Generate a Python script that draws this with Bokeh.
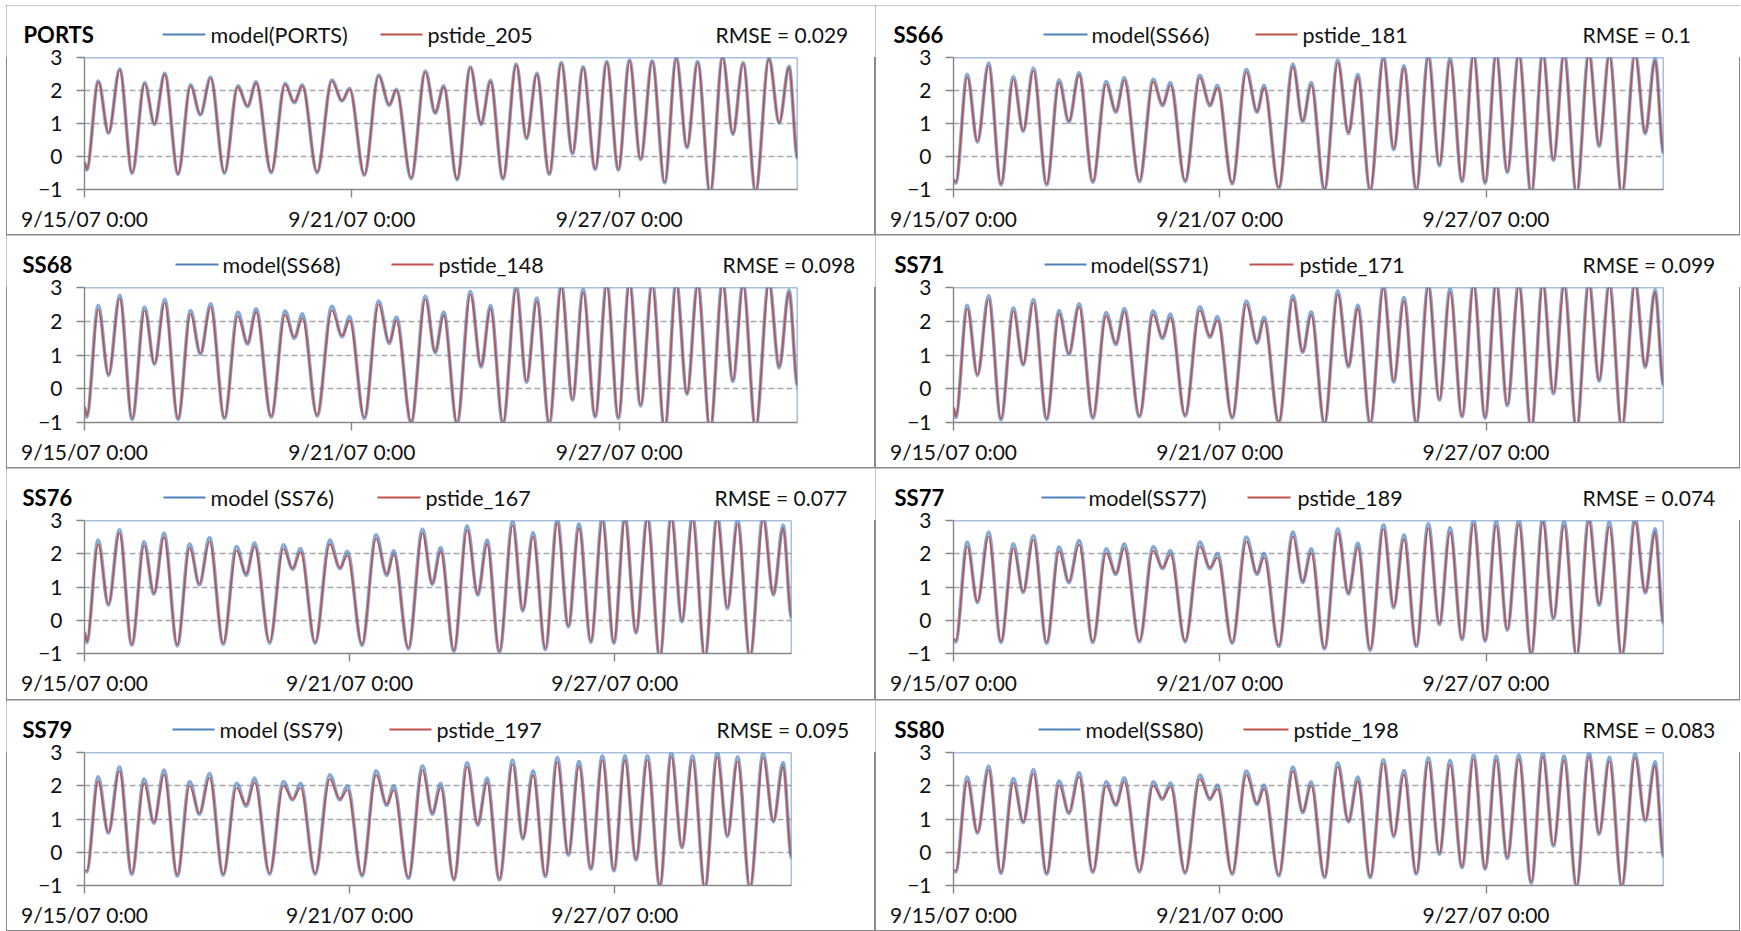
from bokeh.plotting import figure
from bokeh.models import Range1d, FixedTicker, Span, ColumnDataSource, Spacer
from bokeh.core.properties import value
from bokeh.layouts import column, row
from bokeh.embed import file_html
from bokeh.resources import INLINE

# ---------------------------------------------------------------- data
# Time axis in days after 9/15/07 0:00; the series run for 16 days.
START_DAY = 0.0
END_DAY = 16.0
# Times of the successive low / high waters (low first).
EXTREME_DAYS = [
    0.05, 0.31, 0.54, 0.79, 1.07, 1.35, 1.57, 1.80, 2.10, 2.38,
    2.60, 2.83, 3.14, 3.44, 3.66, 3.85, 4.19, 4.50, 4.71, 4.89,
    5.22, 5.55, 5.78, 5.95, 6.28, 6.60, 6.84, 7.00, 7.33, 7.65,
    7.87, 8.06, 8.36, 8.66, 8.90, 9.11, 9.39, 9.69, 9.92, 10.15,
    10.43, 10.70, 10.95, 11.19, 11.46, 11.72, 11.98, 12.23, 12.48, 12.74,
    13.02, 13.28, 13.52, 13.76, 14.04, 14.32, 14.55, 14.78, 15.06, 15.36,
    15.59, 15.81,
]
DAY_TICKS = [0, 6, 12]
DAY_TICK_LABELS = ["9/15/07 0:00", "9/21/07 0:00", "9/27/07 0:00"]
LEVEL_TICKS = [-1, 0, 1, 2, 3]

STATIONS = ["PORTS", "SS66", "SS68", "SS71", "SS76", "SS77", "SS79", "SS80"]
MODEL_NAMES = ["model(PORTS)", "model(SS66)", "model(SS68)", "model(SS71)",
               "model (SS76)", "model(SS77)", "model (SS79)", "model(SS80)"]
PSTIDE_NAMES = ["pstide_205", "pstide_181", "pstide_148", "pstide_171",
                "pstide_167", "pstide_189", "pstide_197", "pstide_198"]
RMSE = ["0.029", "0.1", "0.098", "0.099", "0.077", "0.074", "0.095", "0.083"]

# Water level at the start, at every extreme, and at the end of the record.
pstide_PORTS = [-0.18,
    -0.39, 2.26, 0.72, 2.62, -0.49, 2.21, 0.99, 2.49, -0.52, 2.14,
    1.28, 2.38, -0.49, 2.11, 1.53, 2.23, -0.47, 2.18, 1.65, 2.14,
    -0.47, 2.29, 1.70, 2.04, -0.55, 2.44, 1.57, 2.01, -0.65, 2.56,
    1.33, 2.11, -0.68, 2.69, 0.99, 2.28, -0.66, 2.77, 0.56, 2.49,
    -0.52, 2.82, 0.11, 2.69, -0.37, 2.85, -0.39, 2.89, -0.07, 2.87,
    -0.78, 2.97, 0.29, 2.85, -1.10, 3.00, 0.69, 2.82, -1.05, 2.95,
    1.03, 2.70,
    -0.02]
model_PORTS = [-0.19,
    -0.41, 2.29, 0.70, 2.65, -0.51, 2.24, 0.97, 2.52, -0.54, 2.17,
    1.26, 2.41, -0.51, 2.14, 1.51, 2.26, -0.49, 2.21, 1.63, 2.17,
    -0.49, 2.32, 1.68, 2.07, -0.57, 2.47, 1.55, 2.04, -0.67, 2.59,
    1.31, 2.14, -0.70, 2.72, 0.97, 2.31, -0.68, 2.80, 0.54, 2.52,
    -0.54, 2.85, 0.09, 2.72, -0.39, 2.88, -0.41, 2.92, -0.09, 2.90,
    -0.80, 3.00, 0.27, 2.88, -1.12, 3.03, 0.67, 2.85, -1.07, 2.98,
    1.01, 2.73,
    -0.04]

pstide_SS66 = [-0.68,
    -0.78, 2.41, 0.46, 2.75, -0.83, 2.34, 0.79, 2.60, -0.83, 2.24,
    1.07, 2.46, -0.75, 2.19, 1.37, 2.31, -0.73, 2.26, 1.57, 2.16,
    -0.73, 2.38, 1.57, 2.08, -0.80, 2.56, 1.37, 2.08, -0.93, 2.72,
    1.07, 2.16, -0.98, 2.84, 0.72, 2.41, -1.00, 2.94, 0.24, 2.67,
    -0.98, 3.00, -0.25, 2.89, -0.73, 3.05, -0.78, 3.08, -0.45, 3.08,
    -1.12, 3.10, -0.09, 3.08, -1.12, 3.10, 0.34, 3.05, -1.12, 3.08,
    0.72, 2.90,
    0.13]
model_SS66 = [-0.71,
    -0.81, 2.49, 0.43, 2.83, -0.86, 2.42, 0.76, 2.68, -0.86, 2.32,
    1.04, 2.54, -0.78, 2.27, 1.34, 2.39, -0.76, 2.34, 1.54, 2.24,
    -0.76, 2.46, 1.54, 2.16, -0.83, 2.64, 1.34, 2.16, -0.96, 2.80,
    1.04, 2.24, -1.01, 2.92, 0.69, 2.49, -1.03, 3.02, 0.21, 2.75,
    -1.01, 3.08, -0.28, 2.97, -0.76, 3.13, -0.81, 3.16, -0.48, 3.16,
    -1.15, 3.18, -0.12, 3.16, -1.15, 3.18, 0.31, 3.13, -1.15, 3.16,
    0.69, 2.98,
    0.10]

pstide_SS68 = [-0.53,
    -0.81, 2.35, 0.42, 2.67, -0.88, 2.32, 0.75, 2.55, -0.88, 2.22,
    1.05, 2.42, -0.85, 2.15, 1.35, 2.27, -0.81, 2.19, 1.52, 2.09,
    -0.78, 2.32, 1.57, 2.02, -0.85, 2.50, 1.37, 2.02, -0.98, 2.65,
    1.09, 2.17, -1.01, 2.79, 0.67, 2.37, -1.01, 2.95, 0.22, 2.59,
    -1.01, 2.99, -0.31, 2.85, -0.81, 3.05, -0.85, 3.10, -0.48, 3.05,
    -1.20, 3.10, -0.13, 3.05, -1.20, 3.10, 0.25, 3.05, -1.15, 3.10,
    0.65, 2.85,
    0.12]
model_SS68 = [-0.56,
    -0.84, 2.47, 0.39, 2.77, -0.91, 2.42, 0.72, 2.65, -0.91, 2.32,
    1.02, 2.52, -0.88, 2.27, 1.32, 2.37, -0.84, 2.30, 1.49, 2.22,
    -0.81, 2.44, 1.54, 2.14, -0.88, 2.60, 1.34, 2.12, -1.01, 2.75,
    1.06, 2.27, -1.04, 2.89, 0.64, 2.47, -1.04, 3.05, 0.19, 2.69,
    -1.04, 3.10, -0.34, 2.95, -0.84, 3.15, -0.88, 3.20, -0.51, 3.15,
    -1.23, 3.20, -0.16, 3.15, -1.23, 3.20, 0.22, 3.15, -1.18, 3.20,
    0.62, 2.92,
    0.09]

pstide_SS71 = [-0.55,
    -0.82, 2.37, 0.42, 2.65, -0.89, 2.30, 0.73, 2.55, -0.88, 2.22,
    1.04, 2.42, -0.84, 2.16, 1.34, 2.28, -0.80, 2.20, 1.52, 2.10,
    -0.78, 2.32, 1.56, 2.03, -0.84, 2.50, 1.38, 2.02, -0.98, 2.66,
    1.10, 2.18, -1.01, 2.80, 0.67, 2.38, -1.01, 2.96, 0.23, 2.60,
    -1.01, 3.00, -0.31, 2.86, -0.80, 3.05, -0.84, 3.10, -0.47, 3.05,
    -1.20, 3.10, -0.12, 3.05, -1.20, 3.10, 0.26, 3.05, -1.15, 3.10,
    0.66, 2.86,
    0.13]
model_SS71 = [-0.58,
    -0.85, 2.47, 0.39, 2.76, -0.92, 2.40, 0.70, 2.65, -0.91, 2.32,
    1.01, 2.52, -0.87, 2.26, 1.31, 2.38, -0.83, 2.30, 1.49, 2.21,
    -0.81, 2.43, 1.53, 2.14, -0.87, 2.60, 1.35, 2.12, -1.01, 2.76,
    1.07, 2.28, -1.04, 2.90, 0.64, 2.48, -1.04, 3.06, 0.20, 2.70,
    -1.04, 3.10, -0.34, 2.96, -0.83, 3.15, -0.87, 3.20, -0.50, 3.15,
    -1.23, 3.20, -0.15, 3.15, -1.23, 3.20, 0.23, 3.15, -1.18, 3.20,
    0.63, 2.93,
    0.10]

pstide_SS76 = [-0.35,
    -0.64, 2.29, 0.48, 2.62, -0.72, 2.25, 0.81, 2.50, -0.74, 2.17,
    1.09, 2.37, -0.69, 2.10, 1.38, 2.22, -0.66, 2.15, 1.56, 2.05,
    -0.66, 2.29, 1.58, 1.95, -0.72, 2.45, 1.38, 1.97, -0.83, 2.62,
    1.11, 2.07, -0.90, 2.72, 0.78, 2.29, -0.93, 2.85, 0.31, 2.52,
    -0.85, 2.92, -0.17, 2.77, -0.63, 2.97, -0.66, 3.02, -0.35, 3.02,
    -1.10, 3.05, -0.01, 3.02, -1.10, 3.05, 0.38, 2.90, -1.10, 3.02,
    0.78, 2.75,
    0.11]
model_SS76 = [-0.38,
    -0.67, 2.41, 0.45, 2.73, -0.75, 2.36, 0.78, 2.62, -0.77, 2.29,
    1.06, 2.49, -0.72, 2.22, 1.35, 2.33, -0.69, 2.27, 1.53, 2.16,
    -0.69, 2.41, 1.55, 2.07, -0.75, 2.57, 1.35, 2.09, -0.86, 2.74,
    1.08, 2.19, -0.93, 2.84, 0.75, 2.41, -0.96, 2.97, 0.28, 2.64,
    -0.88, 3.04, -0.20, 2.89, -0.66, 3.09, -0.69, 3.14, -0.38, 3.14,
    -1.13, 3.17, -0.04, 3.14, -1.13, 3.17, 0.35, 3.02, -1.13, 3.14,
    0.75, 2.86,
    0.08]

pstide_SS77 = [-0.55,
    -0.62, 2.22, 0.56, 2.52, -0.64, 2.17, 0.86, 2.42, -0.66, 2.07,
    1.16, 2.27, -0.64, 2.02, 1.41, 2.17, -0.62, 2.09, 1.58, 1.97,
    -0.62, 2.22, 1.58, 1.88, -0.66, 2.37, 1.41, 1.88, -0.76, 2.52,
    1.16, 2.02, -0.83, 2.62, 0.81, 2.19, -0.87, 2.74, 0.41, 2.44,
    -0.76, 2.77, -0.10, 2.65, -0.55, 2.89, -0.60, 2.85, -0.27, 2.89,
    -1.00, 2.95, 0.07, 2.85, -1.05, 2.97, 0.48, 2.82, -1.05, 2.95,
    0.84, 2.62,
    -0.06]
model_SS77 = [-0.58,
    -0.65, 2.35, 0.53, 2.65, -0.67, 2.30, 0.83, 2.55, -0.69, 2.20,
    1.13, 2.40, -0.67, 2.15, 1.38, 2.30, -0.65, 2.22, 1.55, 2.10,
    -0.65, 2.35, 1.55, 2.01, -0.69, 2.50, 1.38, 2.01, -0.79, 2.65,
    1.13, 2.15, -0.86, 2.75, 0.78, 2.32, -0.90, 2.87, 0.38, 2.57,
    -0.79, 2.90, -0.13, 2.78, -0.58, 3.02, -0.63, 2.98, -0.30, 3.02,
    -1.03, 3.08, 0.04, 2.98, -1.08, 3.10, 0.45, 2.95, -1.08, 3.08,
    0.81, 2.75,
    -0.09]

pstide_SS79 = [-0.53,
    -0.56, 2.14, 0.60, 2.44, -0.63, 2.07, 0.90, 2.34, -0.68, 2.00,
    1.17, 2.24, -0.66, 1.94, 1.42, 2.10, -0.63, 2.00, 1.60, 1.94,
    -0.63, 2.20, 1.60, 1.87, -0.68, 2.32, 1.44, 1.87, -0.76, 2.47,
    1.17, 1.94, -0.80, 2.57, 0.84, 2.10, -0.80, 2.64, 0.42, 2.32,
    -0.70, 2.72, -0.06, 2.60, -0.48, 2.77, -0.53, 2.77, -0.20, 2.77,
    -1.00, 2.87, 0.17, 2.77, -1.06, 2.87, 0.50, 2.74, -1.06, 2.84,
    0.94, 2.57,
    -0.13]
model_SS79 = [-0.56,
    -0.59, 2.27, 0.57, 2.57, -0.66, 2.20, 0.87, 2.47, -0.71, 2.13,
    1.14, 2.37, -0.69, 2.07, 1.39, 2.23, -0.66, 2.13, 1.57, 2.07,
    -0.66, 2.33, 1.57, 2.00, -0.71, 2.45, 1.41, 2.00, -0.79, 2.60,
    1.14, 2.07, -0.83, 2.70, 0.81, 2.23, -0.83, 2.77, 0.39, 2.45,
    -0.73, 2.85, -0.09, 2.73, -0.51, 2.90, -0.56, 2.90, -0.23, 2.90,
    -1.03, 3.00, 0.14, 2.90, -1.09, 3.00, 0.47, 2.87, -1.09, 2.97,
    0.91, 2.70,
    -0.16]

pstide_SS80 = [-0.53,
    -0.56, 2.14, 0.60, 2.47, -0.60, 2.10, 0.92, 2.37, -0.63, 2.02,
    1.20, 2.27, -0.58, 2.00, 1.44, 2.12, -0.56, 2.00, 1.62, 1.97,
    -0.60, 2.20, 1.62, 1.90, -0.63, 2.32, 1.47, 1.90, -0.68, 2.44,
    1.22, 2.00, -0.73, 2.57, 0.94, 2.14, -0.73, 2.67, 0.50, 2.34,
    -0.63, 2.72, -0.03, 2.64, -0.43, 2.80, -0.48, 2.77, -0.16, 2.80,
    -0.90, 2.87, 0.22, 2.77, -1.00, 2.87, 0.57, 2.74, -1.00, 2.84,
    0.97, 2.60,
    -0.10]
model_SS80 = [-0.56,
    -0.59, 2.26, 0.57, 2.59, -0.63, 2.22, 0.89, 2.49, -0.66, 2.14,
    1.17, 2.39, -0.61, 2.12, 1.41, 2.24, -0.59, 2.12, 1.59, 2.09,
    -0.63, 2.32, 1.59, 2.02, -0.66, 2.44, 1.44, 2.02, -0.71, 2.56,
    1.19, 2.12, -0.76, 2.69, 0.91, 2.26, -0.76, 2.79, 0.47, 2.46,
    -0.66, 2.84, -0.06, 2.76, -0.46, 2.92, -0.51, 2.89, -0.19, 2.92,
    -0.93, 2.99, 0.19, 2.89, -1.03, 2.99, 0.54, 2.86, -1.03, 2.96,
    0.94, 2.72,
    -0.13]

MODEL = [model_PORTS, model_SS66, model_SS68, model_SS71,
         model_SS76, model_SS77, model_SS79, model_SS80]
PSTIDE = [pstide_PORTS, pstide_SS66, pstide_SS68, pstide_SS71,
          pstide_SS76, pstide_SS77, pstide_SS79, pstide_SS80]

# ---------------------------------------------------------------- layout
# Page geometry in pixels: panel boxes and the plot frames inside them.
COL_X = [6, 875]
COL_W = [869, 865]
ROW_Y = [5, 235, 468, 700]
ROW_H = [230, 233, 232, 231]
FRAMES = [  # left, top, width, height (page pixels)
    (84, 57, 713, 132), (953, 57, 710, 132),
    (84, 287, 713, 135), (953, 287, 710, 135),
    (84, 520, 707, 133), (953, 520, 710, 133),
    (84, 752, 707, 133), (953, 752, 710, 133),
]
CHART_OVERLAP = 14      # chart canvas reaches this far up under the header
HEADER_TEXT_ABOVE = 23  # header text centre, pixels above the frame top
TITLE_X = [23, 893, 22, 894, 22, 894, 22, 894]
# legend: model line start/end, model text, pstide line start/end, pstide text, RMSE text
LEGEND_X = [
    (162, 205, 210, 380, 422, 427, 715),
    (1043, 1087, 1091, 1255, 1297, 1302, 1582),
    (175, 218, 222, 391, 433, 438, 722),
    (1044, 1086, 1090, 1249, 1293, 1299, 1582),
    (163, 205, 210, 377, 420, 425, 714),
    (1041, 1085, 1088, 1247, 1290, 1297, 1582),
    (172, 214, 219, 389, 431, 436, 716),
    (1038, 1080, 1085, 1243, 1288, 1293, 1582),
]

FONT = "Lato"
TEXT_SIZE = "21px"
LEGEND_SIZE = "21.5px"
TEXT_COLOR = "#111111"
BLUE = "#4F81BD"
RED = "#C0504D"
AXIS_GRAY = "#868686"
PANEL_BORDER = {"outline": "1px solid #8a8a8a", "outline-offset": "-1px"}


def segments(days, levels):
    """Cubic Bezier pieces between successive points, flat at each extreme."""
    x0, y0, x1, y1, cx0, cy0, cx1, cy1 = ([] for _ in range(8))
    for i in range(len(days) - 1):
        a, b = days[i], days[i + 1]
        d = (b - a) / 3.0
        x0.append(a); y0.append(levels[i]); x1.append(b); y1.append(levels[i + 1])
        cx0.append(a + d); cy0.append(levels[i]); cx1.append(b - d); cy1.append(levels[i + 1])
    return ColumnDataSource(dict(x0=x0, y0=y0, x1=x1, y1=y1,
                                 cx0=cx0, cy0=cy0, cx1=cx1, cy1=cy1))


def make_header(k, px, py, pw, hh):
    """Station name, legend entries and RMSE, laid out in page pixels."""
    h = figure(width=pw, height=hh, x_range=Range1d(px, px + pw),
               y_range=Range1d(py + hh, py), toolbar_location=None,
               output_backend="svg", x_axis_location=None, y_axis_location=None,
               min_border=0, min_border_left=0, min_border_right=0,
               min_border_top=0, min_border_bottom=0,
               background_fill_color="white", border_fill_color="white",
               outline_line_color=None)
    h.frame_align = False
    h.grid.visible = False
    ty = FRAMES[k][1] - HEADER_TEXT_ABOVE
    m0, m1, mt, s0, s1, st, rx = LEGEND_X[k]
    h.segment(x0=[m0], y0=[ty], x1=[m1], y1=[ty], line_color=BLUE, line_width=2)
    h.segment(x0=[s0], y0=[ty], x1=[s1], y1=[ty], line_color=RED, line_width=2)
    h.text(x=[TITLE_X[k]], y=[ty], text=[STATIONS[k]], text_font=value(FONT),
           text_font_size=value("22px"), text_font_style="bold",
           text_color="#000000", text_baseline="middle", text_align="left")
    h.text(x=[mt, st], y=[ty, ty], text=[MODEL_NAMES[k], PSTIDE_NAMES[k]],
           text_font=value(FONT), text_font_size=value(LEGEND_SIZE),
           text_color=TEXT_COLOR, text_baseline="middle", text_align="left")
    h.text(x=[rx], y=[ty], text=["RMSE = " + RMSE[k]],
           text_font=value(FONT), text_font_size=value(TEXT_SIZE),
           text_color=TEXT_COLOR, text_baseline="middle", text_align="left")
    return h


def make_chart(k, px, top, pw, ch):
    fl, ft, fw, fh = FRAMES[k]
    p = figure(width=pw, height=ch,
               x_range=Range1d(START_DAY, END_DAY), y_range=Range1d(-1, 3),
               toolbar_location=None, output_backend="svg",
               min_border_left=fl - px, min_border_right=pw - (fl - px) - fw,
               min_border_top=ft - top, min_border_bottom=ch - (ft - top) - fh,
               background_fill_color="white", border_fill_color=None,
               outline_line_color=None)
    p.frame_align = False
    p.margin = (-CHART_OVERLAP, 0, 0, 0)

    p.xgrid.visible = False
    p.ygrid.ticker = FixedTicker(ticks=LEVEL_TICKS)
    p.ygrid.grid_line_color = "#A8A8A8"
    p.ygrid.grid_line_dash = "6 3"
    p.ygrid.grid_line_width = 1.3

    xa = p.xaxis[0]
    xa.ticker = FixedTicker(ticks=DAY_TICKS)
    xa.major_label_overrides = {t: s for t, s in zip(DAY_TICKS, DAY_TICK_LABELS)}
    ya = p.yaxis[0]
    ya.ticker = FixedTicker(ticks=LEVEL_TICKS)
    for ax in (xa, ya):
        ax.axis_line_color = AXIS_GRAY
        ax.axis_line_width = 1.4
        ax.major_tick_line_color = AXIS_GRAY
        ax.major_tick_line_width = 1.4
        ax.major_tick_in = 0
        ax.major_tick_out = 8
        ax.minor_tick_line_color = None
        ax.major_label_text_font = FONT
        ax.major_label_text_font_size = TEXT_SIZE
        ax.major_label_text_color = TEXT_COLOR
    xa.major_label_standoff = 8
    ya.major_label_standoff = 14

    # plot-area border on the top and right sides
    p.add_layout(Span(location=3, dimension="width", line_color=BLUE, line_width=1.5))
    p.add_layout(Span(location=END_DAY, dimension="height", line_color=BLUE, line_width=1.5))

    days = [START_DAY] + EXTREME_DAYS + [END_DAY]
    assert len(MODEL[k]) == len(days) and len(PSTIDE[k]) == len(days)
    p.bezier(x0="x0", y0="y0", x1="x1", y1="y1", cx0="cx0", cy0="cy0",
             cx1="cx1", cy1="cy1", source=segments(days, MODEL[k]),
             line_color=BLUE, line_width=3.6, line_alpha=0.7)
    p.bezier(x0="x0", y0="y0", x1="x1", y1="y1", cx0="cx0", cy0="cy0",
             cx1="cx1", cy1="cy1", source=segments(days, PSTIDE[k]),
             line_color=RED, line_width=1.6)
    return p


def make_panel(k):
    r, c = divmod(k, 2)
    px, py, pw, ph = COL_X[c], ROW_Y[r], COL_W[c], ROW_H[r]
    hh = FRAMES[k][1] - py                    # header fills the space above the frame
    header = make_header(k, px, py, pw, hh)
    chart_top = py + hh - CHART_OVERLAP
    chart = make_chart(k, px, chart_top, pw, ph - hh + CHART_OVERLAP)
    box = column(header, chart)
    box.styles = PANEL_BORDER
    return box


panels = [make_panel(k) for k in range(8)]
rows = [Spacer(width=1, height=ROW_Y[0])]
for r in range(4):
    rows.append(row(Spacer(width=COL_X[0], height=ROW_H[r]), panels[2 * r], panels[2 * r + 1]))
page = column(*rows)

html = file_html(page, INLINE, title="Tide comparison")
html = html.replace("<body>", '<body style="margin:0">')
open("out.html", "w").write(html)
